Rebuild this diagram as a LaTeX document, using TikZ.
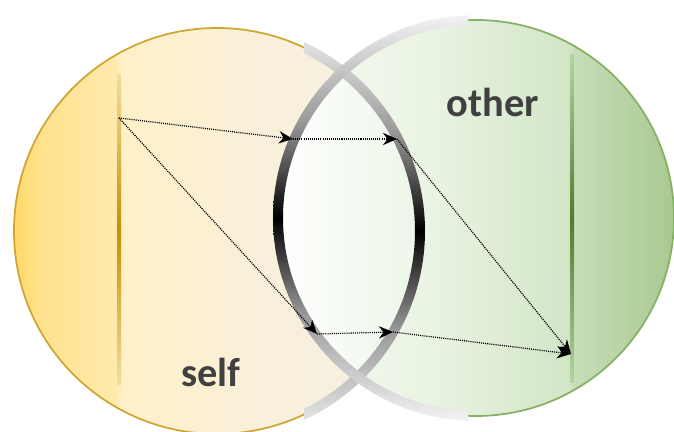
\documentclass[tikz,border=0pt]{standalone}
\usepackage{fontspec}
\setmainfont{Carlito}
\usetikzlibrary{arrows.meta,calc}
\definecolor{Ink}{HTML}{404040}
\definecolor{GoldEdge}{HTML}{CFA634}
\definecolor{GoldLine}{HTML}{C49000}
\definecolor{GoldPale}{HTML}{F1DE9E}
\definecolor{LeafEdge}{HTML}{86B066}
\definecolor{LeafLine}{HTML}{4C7E2C}
\definecolor{LeafPale}{HTML}{B5D4A0}
\definecolor{LensRight}{HTML}{ECF5E7}
\definecolor{YA}{HTML}{FFD966}
\definecolor{YB}{HTML}{FFE18C}
\definecolor{YC}{HTML}{FFEAAE}
\definecolor{YD}{HTML}{FFF0C8}
\definecolor{YE}{HTML}{F9F0DC}
\definecolor{YF}{HTML}{F6F0E2}
\definecolor{GA}{HTML}{F6FAF3}
\definecolor{GB}{HTML}{EAF4E4}
\definecolor{GC}{HTML}{D2E5C6}
\definecolor{GD}{HTML}{C8DDBA}
\definecolor{GE}{HTML}{A8C990}
\definecolor{RA}{HTML}{F3F3F3}
\definecolor{RB}{HTML}{9A9A9A}
\pgfdeclarehorizontalshading{selffill}{100bp}{color(0bp)=(YA); color(25bp)=(YA); color(28bp)=(YB); color(37.6bp)=(YC); color(38.3bp)=(YD); color(56.5bp)=(YE); color(75bp)=(YF); color(100bp)=(YF)}
\pgfdeclarehorizontalshading{otherfill}{100bp}{color(0bp)=(GA); color(25bp)=(GA); color(43.6bp)=(GB); color(61.9bp)=(GC); color(62.4bp)=(GD); color(75bp)=(GE); color(100bp)=(GE)}
\pgfdeclareverticalshading{ringfade}{100bp}{color(0bp)=(RA); color(25bp)=(RA); color(38bp)=(RB); color(50bp)=(black); color(62bp)=(RB); color(75bp)=(RA); color(100bp)=(RA)}

\begin{document}
\begin{tikzpicture}[x=0.02cm, y=0.02cm,
  lbl/.style={font=\fontsize{23}{23}\selectfont\bfseries, text=Ink},
  flow/.style={line width=0.7pt, dash pattern=on 0.6pt off 0.6pt, -{Stealth[length=8pt,width=7pt,inset=2.6pt]}}]
  \useasboundingbox (0,0) rectangle (674,432);
  \coordinate (selfc) at (217,201);
  \coordinate (otherc) at (476,214);
  \shade[shading=selffill, draw=GoldEdge, line width=1pt] (selfc) circle[radius=203];
  \shade[shading=otherfill, draw=LeafEdge, line width=1pt] (otherc) circle[radius=198];
  \begin{scope}
    \clip (selfc) circle[radius=203];
    \clip (otherc) circle[radius=198];
    \shade[left color=white, right color=LensRight] (278,0) rectangle (421,432);
  \end{scope}
  \shade[top color=GoldPale, bottom color=GoldPale, middle color=GoldLine] (117,47) rectangle (121,357);
  \shade[top color=LeafPale, bottom color=LeafPale, middle color=LeafLine] (570,49) rectangle (574,377);
  \begin{scope}
    \clip (304,0) rectangle (674,432);
    \shade[shading=ringfade, even odd rule] (selfc) circle[radius=208] (selfc) circle[radius=198];
  \end{scope}
  \begin{scope}
    \clip (0,0) rectangle (468,432);
    \shade[shading=ringfade, even odd rule] (otherc) circle[radius=203] (otherc) circle[radius=193];
  \end{scope}
  \coordinate (a) at (119,314);
  \coordinate (b1) at (293,293);
  \coordinate (b2) at (397,293);
  \coordinate (c) at (571,78);
  \coordinate (d1) at (317,98);
  \coordinate (d2) at (393,100);
  \draw[flow] (a) -- (b1);
  \draw[flow] (b1) -- (b2);
  \draw[flow] (b2) -- (c);
  \draw[flow] (a) -- (d1);
  \draw[flow] (d1) -- (d2);
  \draw[flow] (d2) -- (c);
  \node[lbl] (selflbl) at (211,60) {self};
  \node[lbl] (otherlbl) at (493,330) {other};
\end{tikzpicture}
\end{document}
